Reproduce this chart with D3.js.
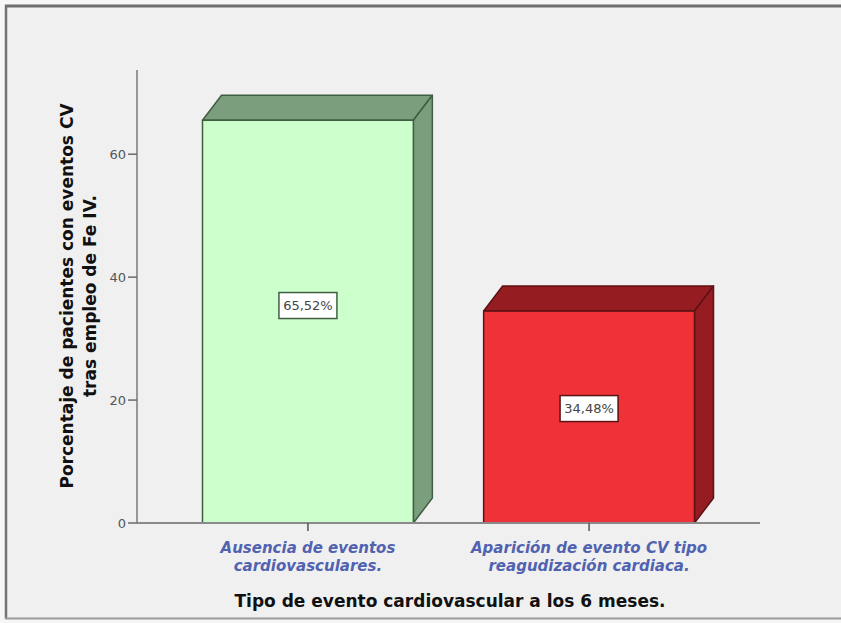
<!DOCTYPE html>
<html>
<head>
<meta charset="utf-8">
<script src="https://cdn.jsdelivr.net/npm/d3@7"></script>
<style>
  html, body { margin: 0; padding: 0; background: #f6f6f6; }
  svg { display: block; }
</style>
</head>
<body>
<script>
// ---- data ----
const categories = [
  ["Ausencia de eventos", "cardiovasculares."],
  ["Aparición de evento CV tipo", "reagudización cardiaca."]
];
const values = [65.52, 34.48];
const valueLabels = ["65,52%", "34,48%"];
const yTicks = [0, 20, 40, 60];
const yTitle = ["Porcentaje de pacientes con eventos CV", "tras empleo de Fe IV."];
const xTitle = "Tipo de evento cardiovascular a los 6 meses.";
const frontColors = ["#ccffcc", "#ee3237"];
const depthColors = ["#7b9e7d", "#951d22"];
const edgeColors = ["#3f5e42", "#5c1114"];

const W = 841, H = 623;
const svg = d3.select("body").append("svg").attr("width", W).attr("height", H);

// frame
svg.append("rect").attr("x", 6).attr("y", 6).attr("width", W).attr("height", 612)
  .attr("fill", "#f0f0f0");
svg.append("line").attr("x1", 5).attr("x2", W).attr("y1", 6).attr("y2", 6)
  .attr("stroke", "#6e6e6e").attr("stroke-width", 3);
svg.append("line").attr("x1", 6).attr("x2", 6).attr("y1", 5).attr("y2", 619)
  .attr("stroke", "#747474").attr("stroke-width", 2.5);
svg.append("line").attr("x1", 5).attr("x2", W).attr("y1", 618.5).attr("y2", 618.5)
  .attr("stroke", "#9a9a9a").attr("stroke-width", 2);

const x = d3.scaleBand().domain(d3.range(categories.length))
  .range([137, 760]).paddingInner(0.25).paddingOuter(0.233);
const y = d3.scaleLinear().domain([0, 73.7]).range([523, 70]);

const DX = 19, DY = 25;
const font = "'DejaVu Sans', Verdana, sans-serif";

// bars
const g = svg.append("g");
values.forEach((v, i) => {
  const x0 = x(i), x1 = x(i) + x.bandwidth();
  const yv = y(v), y0 = y(0);
  g.append("path")
    .attr("d", `M${x0},${yv}L${x0 + DX},${yv - DY}L${x1 + DX},${yv - DY}L${x1},${yv}Z`)
    .attr("fill", depthColors[i]).attr("stroke", edgeColors[i]).attr("stroke-width", 1.5)
    .attr("stroke-linejoin", "round");
  g.append("path")
    .attr("d", `M${x1},${yv}L${x1 + DX},${yv - DY}L${x1 + DX},${y0 - DY}L${x1},${y0}Z`)
    .attr("fill", depthColors[i]).attr("stroke", edgeColors[i]).attr("stroke-width", 1.5)
    .attr("stroke-linejoin", "round");
  g.append("rect").attr("x", x0).attr("y", yv).attr("width", x1 - x0).attr("height", y0 - yv)
    .attr("fill", frontColors[i]).attr("stroke", edgeColors[i]).attr("stroke-width", 1.5);
});

// y axis
svg.append("line").attr("x1", 137).attr("x2", 137).attr("y1", y.range()[1]).attr("y2", y(0))
  .attr("stroke", "#7a7a7a").attr("stroke-width", 1.5);
const yt = svg.append("g");
yTicks.forEach(t => {
  yt.append("line").attr("x1", 128).attr("x2", 137).attr("y1", y(t)).attr("y2", y(t))
    .attr("stroke", "#6a6a6a").attr("stroke-width", 1.5);
  yt.append("text").attr("x", 126).attr("y", y(t)).attr("text-anchor", "end")
    .attr("dominant-baseline", "central").attr("font-family", font).attr("font-size", 13)
    .attr("fill", "#555").text(t);
});

// x axis
svg.append("line").attr("x1", 137).attr("x2", 760).attr("y1", y(0)).attr("y2", y(0))
  .attr("stroke", "#8a8a8a").attr("stroke-width", 2);
categories.forEach((c, i) => {
  const cx = x(i) + x.bandwidth() / 2;
  svg.append("line").attr("x1", cx).attr("x2", cx).attr("y1", y(0)).attr("y2", y(0) + 8)
    .attr("stroke", "#555").attr("stroke-width", 1.5);
  c.forEach((line, k) => {
    svg.append("text").attr("x", cx).attr("y", 548 + k * 18).attr("text-anchor", "middle")
      .attr("dominant-baseline", "central").attr("font-family", font).attr("font-size", 15)
      .attr("font-style", "italic").attr("font-weight", "bold")
      .attr("fill", "#5062b0").text(line);
  });
});

// value labels
values.forEach((v, i) => {
  const cx = x(i) + x.bandwidth() / 2;
  const cy = y(v * 0.54);
  svg.append("rect").attr("x", cx - 29).attr("y", cy - 13).attr("width", 58).attr("height", 26)
    .attr("fill", "#ffffff").attr("stroke", edgeColors[i]).attr("stroke-width", 1.5);
  svg.append("text").attr("x", cx).attr("y", cy).attr("text-anchor", "middle")
    .attr("dominant-baseline", "central").attr("font-family", font).attr("font-size", 13)
    .attr("fill", "#444").text(valueLabels[i]);
});

// y title
yTitle.forEach((t, k) => {
  svg.append("text").attr("transform", `translate(${67 + k * 23},296) rotate(-90)`)
    .attr("text-anchor", "middle").attr("dominant-baseline", "central")
    .attr("font-family", font).attr("font-size", 17).attr("font-weight", "bold")
    .attr("fill", "#111").text(t);
});

// x title
svg.append("text").attr("x", 450).attr("y", 601).attr("text-anchor", "middle")
  .attr("dominant-baseline", "central").attr("font-family", font).attr("font-size", 17)
  .attr("font-weight", "bold").attr("fill", "#111").text(xTitle);
</script>
</body>
</html>
